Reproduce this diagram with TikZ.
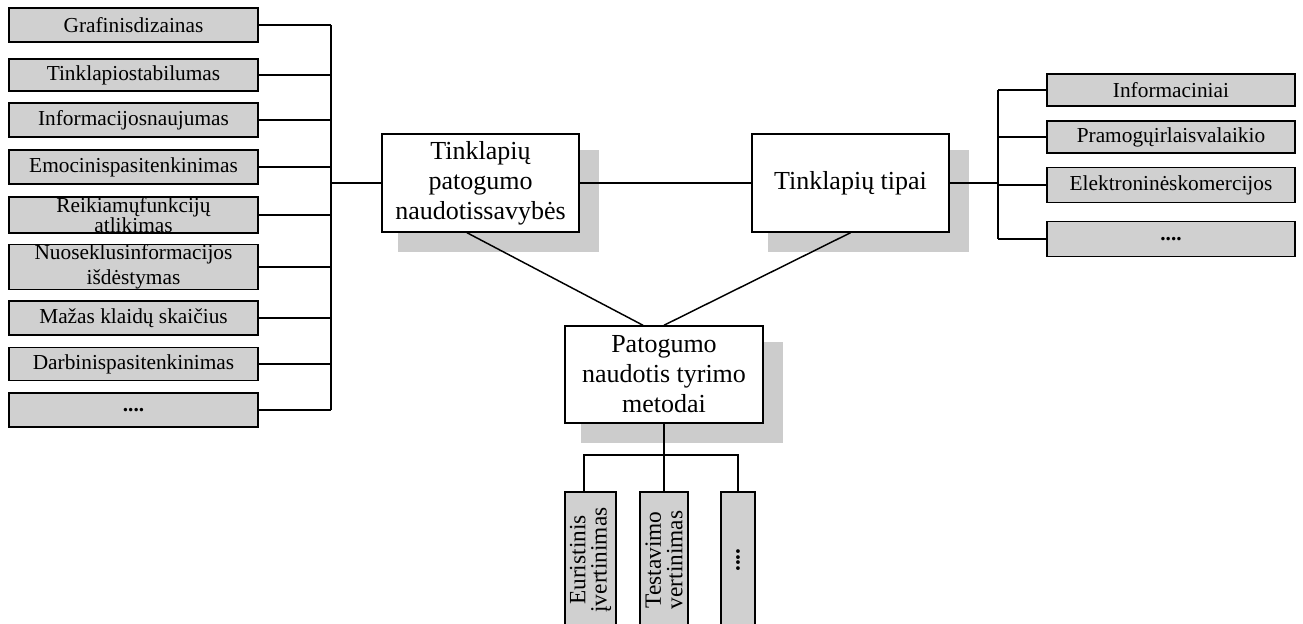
\documentclass[tikz,border=0pt]{standalone}
\usepackage{fontspec}
\setmainfont{Liberation Serif}
\usetikzlibrary{calc,backgrounds}
\definecolor{boxgray}{HTML}{D0D0D0}
\definecolor{shadowgray}{HTML}{CCCCCC}
\begin{document}
\begin{tikzpicture}[x=0.75pt,y=-0.75pt,
  item/.style={draw,line width=1.1pt,fill=boxgray,inner sep=0pt,align=center,
    minimum width=186.75pt,font=\fontsize{16}{16}\selectfont},
  mainbox/.style={draw,line width=1.1pt,fill=white,inner sep=0pt,align=center,
    minimum width=147.75pt,minimum height=73.5pt,font=\fontsize{19.5}{22.5}\selectfont},
  vbox/.style={draw,line width=1.1pt,fill=boxgray,inner sep=0pt,align=center,
    rotate=90,minimum width=102pt,font=\fontsize{17.5}{16}\selectfont},
  conn/.style={line width=1.1pt},
  shade/.style={fill=shadowgray}]
\path[use as bounding box] (0,0) rectangle (1303,624);
\clip (0,0) rectangle (1303,624);

% left column: usability properties
\node[item,minimum height=25.5pt] (l1) at (133.5,25) {Grafinisdizainas};
\node[item,minimum height=24pt] (l2) at (133.5,75) {Tinklapiostabilumas};
\node[item,minimum height=25.5pt] (l3) at (133.5,120) {Informacijosnaujumas};
\node[item,minimum height=25.5pt] (l4) at (133.5,167) {Emocinispasitenkinimas};
\node[item,minimum height=27pt,font=\fontsize{16}{14.25}\selectfont] (l5) at (133.5,215) {Reikiamųfunkcijų\\atlikimas};
\node[item,minimum height=32.25pt,font=\fontsize{16}{18.75}\selectfont] (l6) at (133.5,267) {Nuoseklusinformacijos\\išdėstymas};
\node[item,minimum height=25.5pt] (l7) at (133.5,318) {Mažas klaidų skaičius};
\node[item,minimum height=24.75pt] (l8) at (133.5,364) {Darbinispasitenkinimas};
\node[item,minimum height=25.5pt] (l9) at (133.5,410) {\textbf{....}};

% central boxes
\node[mainbox] (b1) at (480.5,183) {Tinklapių\\patogumo\\naudotissavybės};
\node[mainbox] (b2) at (850.5,183) {Tinklapių tipai};
\node[mainbox,minimum width=148.5pt,minimum height=72.75pt] (b3) at (664,374.5) {Patogumo\\naudotis tyrimo\\metodai};

% right column: website types
\node[item,minimum width=186pt,minimum height=24pt] (r1) at (1171,90) {Informaciniai};
\node[item,minimum width=186pt,minimum height=24pt] (r2) at (1171,137) {Pramogųirlaisvalaikio};
\node[item,minimum width=186pt,minimum height=26.25pt] (r3) at (1171,185) {Elektroninėskomercijos};
\node[item,minimum width=186pt,minimum height=26.25pt] (r4) at (1171,239) {\textbf{....}};

% bottom row: research methods (boxes run past the lower edge)
\node[vbox,minimum height=38.25pt] (d1) at (590.5,560) {Euristinis\\įvertinimas};
\node[vbox,minimum height=36pt] (d2) at (664,560) {Testavimo\\vertinimas};
\node[vbox,minimum height=25.5pt] (d3) at (738,560) {\textbf{....}};

% shadows behind the central boxes
\begin{scope}[on background layer]
  \foreach \b in {b1,b2,b3}
    \fill[shade] ($(\b.north west)+(17,17)$) rectangle ($(\b.south east)+(19,19)$);
\end{scope}

% left bus
\coordinate (busL) at (331,183);
\foreach \n in {l1,l2,l3,l4,l5,l6,l7,l8,l9}
  \draw[conn] (\n.east) -- (\n.east -| busL);
\draw[conn] (l1.east -| busL) -- (l9.east -| busL);
\draw[conn] (busL) -- (b1.west);

% central links
\draw[conn] (b1.east) -- (b2.west);
\draw[conn] ($(b1.south)+(-13.5,0)$) -- ($(b3.north)+(-21,0)$);
\draw[conn] (b2.south) -- (b3.north);

% right bus
\coordinate (busR) at (998,183);
\draw[conn] (b2.east) -- (busR);
\foreach \n in {r1,r2,r3,r4}
  \draw[conn] (\n.west -| busR) -- (\n.west);
\draw[conn] (r1.west -| busR) -- (r4.west -| busR);

% bottom bus
\coordinate (busB) at (664,455);
\coordinate (d1top) at ($(d1.east)+(-6.5,0)$);
\draw[conn] (b3.south) -- (d2.east);
\draw[conn] (d1top) -- (d1top |- busB) -- (d3.east |- busB) -- (d3.east);
\end{tikzpicture}
\end{document}
